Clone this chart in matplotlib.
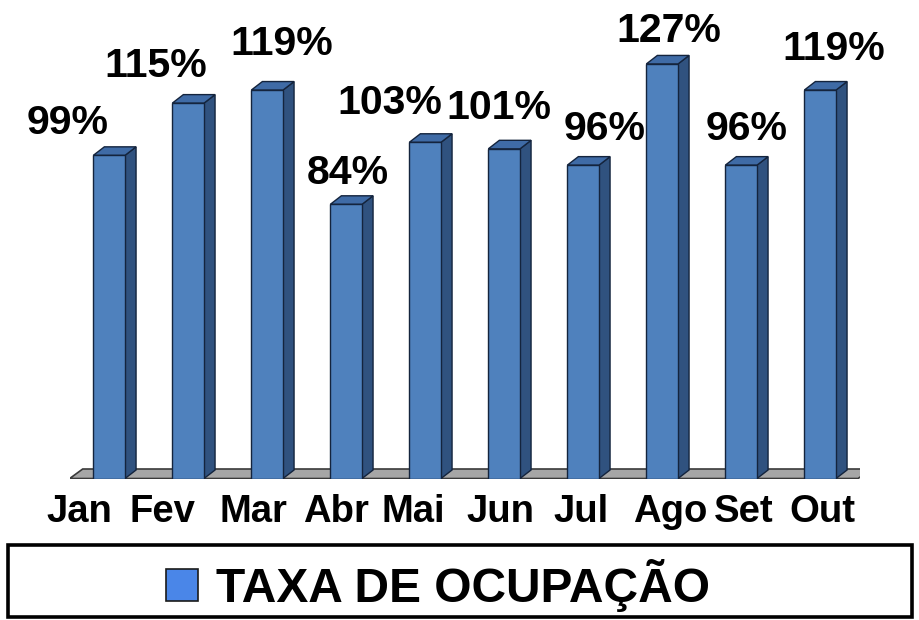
import matplotlib
matplotlib.use("Agg")
import matplotlib.pyplot as plt
from matplotlib.patches import Polygon, Rectangle, Patch

# ---- data ----
months = ["Jan", "Fev", "Mar", "Abr", "Mai", "Jun", "Jul", "Ago", "Set", "Out"]
taxa = [99, 115, 119, 84, 103, 101, 96, 127, 96, 119]
value_labels = ["99%", "115%", "119%", "84%", "103%", "101%", "96%", "127%", "96%", "119%"]
series_name = "TAXA DE OCUPAÇÃO"

# label placement tweaks (pixels)
label_dx = [-42, -32, 15, 2, -35, -5, 21, 7, 5, 14]
label_dy = [21, 26, 35, 20, 28, 30, 25, 22, 25, 30]
tick_dx = [-29.5, -25.5, -14, -10.5, -12, -4, -2, 8.5, 2, 2.5]

W, H, DPI = 919, 620, 100
fig = plt.figure(figsize=(W / DPI, H / DPI), dpi=DPI)
fig.patch.set_facecolor("white")

ax_left, ax_w = 69.7, 790.0
ax_bottom_px, ax_h = 478.5, 457.0
ax = fig.add_axes([ax_left / W, (H - ax_bottom_px) / H, ax_w / W, ax_h / H])
ax.set_xlim(-0.5, len(months) - 0.5)
ax.set_ylim(0, 140)
ax.patch.set_alpha(0)
for s in ax.spines.values():
    s.set_visible(False)

px_x = (len(months)) / ax_w       # data units per pixel (x)
px_y = 140 / ax_h                 # data units per pixel (y)

front = "#4f81bd"
side = "#30527f"
top = "#3f6ba6"
edge = "#14243d"

# floor
fdx, fdy = 13 * px_x, 9.5 * px_y
x0, x1 = -0.5, len(months) - 0.5 - 0.02
floor = Polygon([(x0, 0), (x1, 0), (x1 + fdx, fdy), (x0 + fdx, fdy)],
                closed=True, facecolor="#a6a6a6", edgecolor="#3a3a3a", lw=1.2, zorder=1)
ax.add_patch(floor)

# bars
w = 31.7 * px_x
bdx, bdy = 11 * px_x, 8.5 * px_y
xs = list(range(len(months)))
bars = ax.bar(xs, taxa, width=w, color=front, edgecolor=edge, linewidth=1.0, zorder=3)
for xi, v in zip(xs, taxa):
    r = xi + w / 2
    l = xi - w / 2
    ax.add_patch(Polygon([(r, 0), (r + bdx, bdy), (r + bdx, v + bdy), (r, v)],
                         closed=True, facecolor=side, edgecolor=edge, lw=1.0, zorder=2))
    ax.add_patch(Polygon([(l, v), (r, v), (r + bdx, v + bdy), (l + bdx, v + bdy)],
                         closed=True, facecolor=top, edgecolor=edge, lw=1.0, zorder=2))

# value labels
lab_font = dict(family=["Liberation Sans", "DejaVu Sans"], weight="bold", size=29.5)
for xi, v, t, dx, dy in zip(xs, taxa, value_labels, label_dx, label_dy):
    ax.annotate(t, (xi, v), xytext=(dx, dy), textcoords="offset pixels",
                ha="center", va="baseline", color="black", zorder=5, **lab_font)

# x tick labels
ax.set_xticks([xi + d * px_x for xi, d in zip(xs, tick_dx)])
ax.set_xticklabels(months, fontdict=dict(family=["Liberation Sans", "DejaVu Sans"],
                                         weight="bold", size=27.5))
ax.tick_params(axis="x", length=0, pad=11)
ax.set_yticks([])

# legend box
box = Rectangle((8 / W, (H - 617) / H), 904 / W, 72 / H, transform=fig.transFigure,
                facecolor="white", edgecolor="black", lw=2.6, zorder=0)
fig.patches.append(box)
handle = Patch(facecolor="#4a86e8", edgecolor="#1a1a1a", lw=1.2)
fig.legend([handle], [series_name], loc="center",
           bbox_to_anchor=(438 / W, 1 - 585 / H), frameon=False,
           prop=dict(family=["Liberation Sans", "DejaVu Sans"], weight="bold", size=34.5),
           handlelength=0.67, handleheight=0.66, handletextpad=0.36, borderpad=0, borderaxespad=0)

fig.savefig("out.png", dpi=DPI)
